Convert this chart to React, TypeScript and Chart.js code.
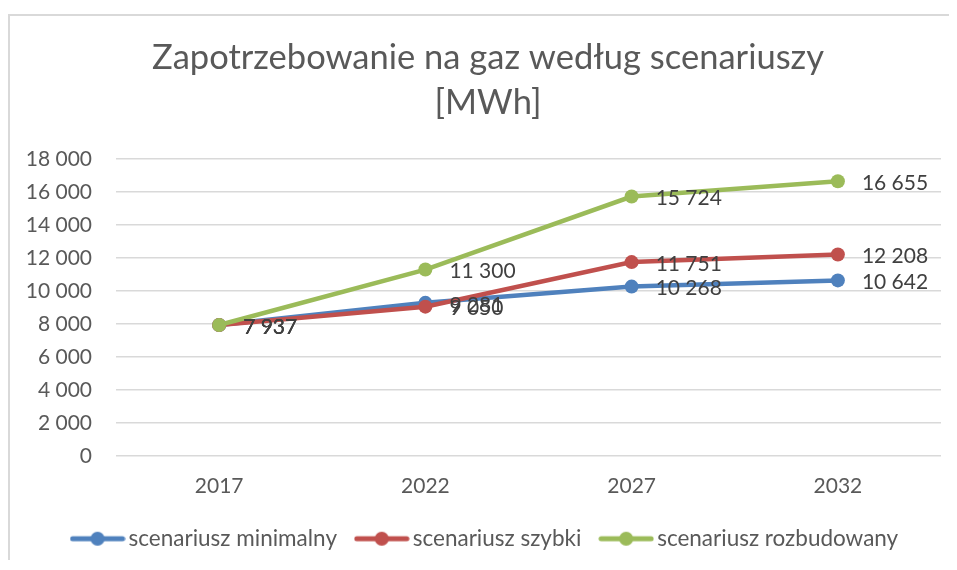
import { useEffect, useRef } from 'react';
import { Chart, registerables } from 'chart.js';

Chart.register(...registerables);

const years = ['2017', '2022', '2027', '2032'];
const minimalny = [7937, 9281, 10268, 10642];
const szybki = [7937, 9050, 11751, 12208];
const rozbudowany = [7937, 11300, 15724, 16655];
const seriesNames = ['scenariusz minimalny', 'scenariusz szybki', 'scenariusz rozbudowany'];
const titleLines = ['Zapotrzebowanie na gaz według scenariuszy', '[MWh]'];
const yMin = 0;
const yMax = 18000;
const yStep = 2000;

const FONT = 'Lato, "Open Sans", sans-serif';
const colors = ['#4F81BD', '#C0504D', '#9BBB59'];

function fmt(v: number): string {
  return String(Math.round(v)).replace(/\B(?=(\d{3})+(?!\d))/g, ' ');
}

function makeIcon(color: string): HTMLCanvasElement {
  const c = document.createElement('canvas');
  c.width = 56;
  c.height = 16;
  const g = c.getContext('2d')!;
  g.strokeStyle = color;
  g.lineWidth = 5;
  g.lineCap = 'round';
  g.beginPath();
  g.moveTo(3, 8);
  g.lineTo(53, 8);
  g.stroke();
  g.fillStyle = color;
  g.beginPath();
  g.arc(28, 8, 7, 0, Math.PI * 2);
  g.fill();
  return c;
}

const dataLabels = {
  id: 'dataLabels',
  afterDatasetsDraw(chart: any) {
    const ctx = chart.ctx;
    ctx.save();
    ctx.font = `21px ${FONT}`;
    ctx.fillStyle = '#404040';
    ctx.textAlign = 'left';
    ctx.textBaseline = 'middle';
    chart.data.datasets.forEach((ds: any, i: number) => {
      const meta = chart.getDatasetMeta(i);
      meta.data.forEach((pt: any, j: number) => {
        ctx.fillText(fmt(ds.data[j]), pt.x + 24, pt.y + 2);
      });
    });
    ctx.restore();
  },
};

export default function App() {
  const ref = useRef<HTMLCanvasElement>(null);
  useEffect(() => {
    const icons = colors.map(makeIcon);
    const values = [minimalny, szybki, rozbudowany];
    const chart = new Chart(ref.current!, {
      type: 'line',
      data: {
        labels: years,
        datasets: values.map((v, i) => ({
          label: seriesNames[i],
          data: v,
          yAxisID: 'y',
          borderColor: colors[i],
          backgroundColor: colors[i],
          pointBackgroundColor: colors[i],
          pointBorderColor: colors[i],
          borderWidth: 4.5,
          pointRadius: 7,
          pointBorderWidth: 0,
          tension: 0,
          order: 3 - i,
        })),
      },
      options: {
        responsive: false,
        animation: false,
        layout: { padding: { left: 14, right: 10, top: 0, bottom: 0 } },
        plugins: {
          tooltip: { enabled: false },
          title: {
            display: true,
            text: titleLines,
            color: '#595959',
            font: { family: FONT, size: 34.5, weight: 'normal', lineHeight: 1.3 },
            padding: { top: 19.6, bottom: 33.7 },
          },
          legend: {
            position: 'bottom',
            labels: {
              usePointStyle: true,
              pointStyleWidth: 39.5,
              padding: 25,
              color: '#595959',
              font: { family: FONT, size: 22.5 },
              generateLabels: (ch: any) => {
                const items = Chart.defaults.plugins.legend.labels.generateLabels(ch);
                items.sort((a: any, b: any) => a.datasetIndex - b.datasetIndex);
                return items.map((it: any) => ({ ...it, pointStyle: icons[it.datasetIndex] }));
              },
            },
          },
        },
        scales: {
          x: {
            offset: true,
            grid: { display: false, drawTicks: false },
            border: { display: false },
            ticks: { color: '#595959', font: { family: FONT, size: 21 }, padding: 18 },
            afterFit: (s: any) => { s.height = 46.5; },
          },
          y: {
            min: yMin,
            max: yMax,
            grid: { color: '#d9d9d9', lineWidth: 1.5, drawTicks: false },
            border: { display: false },
            ticks: {
              stepSize: yStep,
              color: '#595959',
              font: { family: FONT, size: 21 },
              padding: 24,
              callback: (v: any) => fmt(Number(v)),
            },
            afterFit: (s: any) => { s.width = 92; },
          },
          y2: {
            position: 'right',
            grid: { display: false, drawTicks: false },
            border: { display: false },
            ticks: { display: false },
            afterFit: (s: any) => { s.width = 11; },
          },
        },
      },
      plugins: [dataLabels],
    });
    return () => chart.destroy();
  }, []);

  return (
    <div style={{ paddingTop: 6 }}>
      <div
        style={{
          width: 939,
          height: 544,
          overflow: 'hidden',
          borderTop: '2px solid #d9d9d9',
          borderLeft: '2px solid #d9d9d9',
        }}
      >
        <canvas ref={ref} width={952} height={544} style={{ display: 'block' }} />
      </div>
    </div>
  );
}
